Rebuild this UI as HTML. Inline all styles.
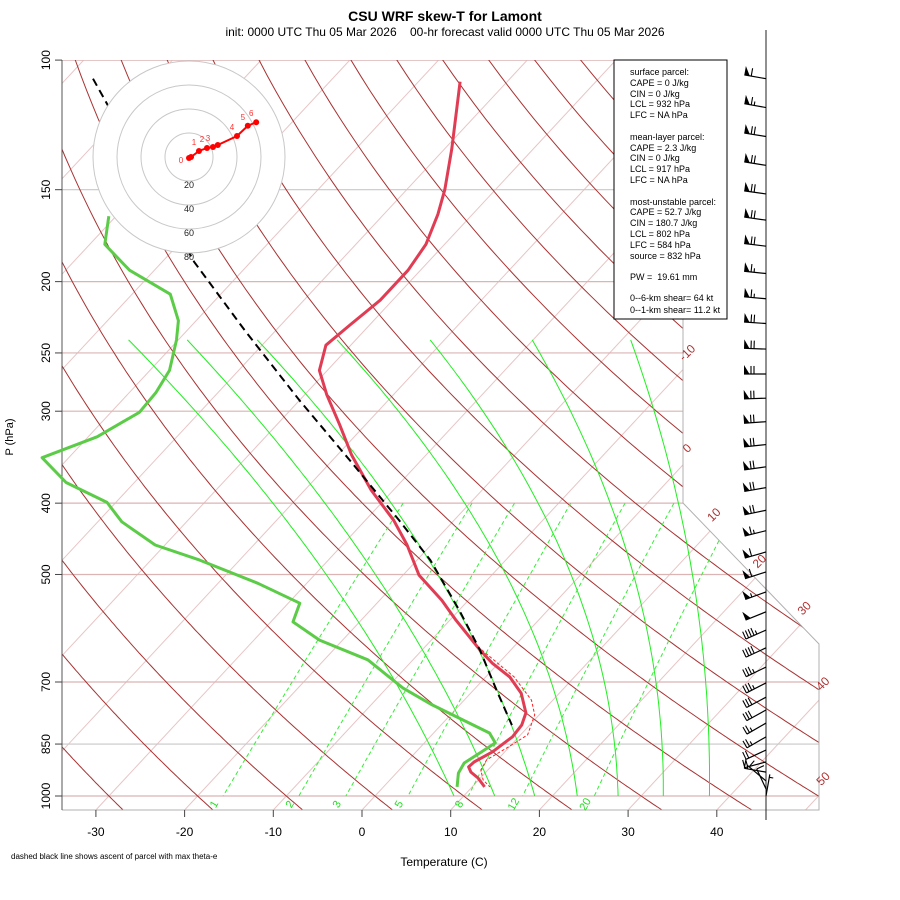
<!DOCTYPE html>
<html><head><meta charset="utf-8"><style>
html,body{margin:0;padding:0;background:#fff}
svg{display:block;font-family:"Liberation Sans",sans-serif}
</style></head><body>
<svg id="chart" width="900" height="900" viewBox="0 0 900 900" xmlns="http://www.w3.org/2000/svg">
<rect x="0" y="0" width="900" height="900" fill="#fff"/>
<defs><clipPath id="plotclip"><polygon points="62,60 683,60 683,503 819,644 819,810 62,810"/></clipPath></defs>
<text x="445" y="21" font-size="14" font-weight="bold" text-anchor="middle">CSU WRF skew-T for Lamont</text>
<text x="445" y="36" font-size="12" text-anchor="middle" xml:space="preserve">init: 0000 UTC Thu 05 Mar 2026    00-hr forecast valid 0000 UTC Thu 05 Mar 2026</text>
<g id="grid" clip-path="url(#plotclip)"></g>
<g id="frame"></g>
<g id="series"></g>
<g id="axes"></g>
<g id="hodo"></g>
<g id="barbs"></g>
<g>
<rect x="614" y="60" width="113" height="259" fill="#fff" stroke="#000" stroke-width="1"/>
<g font-size="9" fill="#000">
<text x="630" y="75">surface parcel:</text>
<text x="630" y="86">CAPE = 0 J/kg</text>
<text x="630" y="97">CIN = 0 J/kg</text>
<text x="630" y="107">LCL = 932 hPa</text>
<text x="630" y="118">LFC = NA hPa</text>
<text x="630" y="140">mean-layer parcel:</text>
<text x="630" y="151">CAPE = 2.3 J/kg</text>
<text x="630" y="161">CIN = 0 J/kg</text>
<text x="630" y="172">LCL = 917 hPa</text>
<text x="630" y="183">LFC = NA hPa</text>
<text x="630" y="205">most-unstable parcel:</text>
<text x="630" y="215">CAPE = 52.7 J/kg</text>
<text x="630" y="226">CIN = 180.7 J/kg</text>
<text x="630" y="237">LCL = 802 hPa</text>
<text x="630" y="248">LFC = 584 hPa</text>
<text x="630" y="259">source = 832 hPa</text>
<text x="630" y="280" xml:space="preserve">PW =  19.61 mm</text>
<text x="630" y="301">0--6-km shear= 64 kt</text>
<text x="630" y="313">0--1-km shear= 11.2 kt</text>
</g></g>
<text x="444" y="866" font-size="12" text-anchor="middle">Temperature (C)</text>
<text x="0" y="0" font-size="11" text-anchor="middle" transform="translate(13,437) rotate(-90)">P (hPa)</text>
<text x="11" y="859" font-size="8">dashed black line shows ascent of parcel with max theta-e</text>
</svg>
<script>
// ---- data ----
const tempP = [107,132,150,162,178,193,212,229,244,264,285,313,344,384,422,456,501,542,577,633,660,689,725,771,801,831,871,899,913,928,945,972];
const tempT = [-65.3,-59.2,-55.7,-53.9,-52.1,-51.4,-51.4,-52.2,-52.8,-50.9,-47.5,-42.9,-38.4,-32.5,-26.8,-22.7,-18.2,-13.0,-9.3,-3.5,-0.7,2.7,5.7,8.3,9.1,9.3,8.6,7.6,7.5,8.3,9.7,11.4];
const dewP = [163,178,193,208,226,240,264,283,301,325,347,375,399,424,456,478,514,547,580,614,653,713,752,796,821,847,874,902,931,972];
const dewT = [-90.8,-88.3,-82.8,-75.7,-72.0,-70.2,-67.8,-67.0,-66.8,-69.0,-73.0,-67.7,-61.0,-57.3,-51.1,-44.5,-35.5,-28.7,-27.5,-22.6,-15.1,-8.2,-3.1,3.0,6.3,8.0,7.3,6.6,7.0,8.3];
const parcelP = [106,114,188,233,290,350,422,478,559,633,718,801];
const parcelT = [-107.0,-103.1,-76.4,-63.5,-50.0,-38.0,-26.2,-18.5,-10.0,-3.5,2.6,8.0];
const virtP = [633,689,741,776,826,861,893,922,951,972];
const virtT = [-3.3,3.2,7.6,9.5,10.8,9.8,8.8,9.2,10.5,12.0];
const barbP = [106,116,127,139,152,165,179,195,211,228,247,267,288,310,333,357,381,409,436,466,496,528,562,595,629,668,702,734,764,796,831,866,899,928,954,978,1000];
const barbSpd = [60,65,70,70,70,70,70,65,65,70,70,70,70,70,70,70,70,70,65,60,60,55,50,45,40,35,35,30,30,25,25,20,20,15,10,10,5];
const barbDir = [280,280,279,279,278,278,277,276,275,274,272,270,268,266,264,262,260,258,256,254,252,250,248,246,245,244,243,242,241,240,240,245,255,280,310,335,10];
const hodoU = [0,1.7,8.3,15,20,24,40,49,56];
const hodoV = [-0.8,0,5,7.5,8.3,10,17.5,26,29];
const hodoLbl = ["0","","1","2","3","","4","5","6"];
const xTicks = [-30,-20,-10,0,10,20,30,40];
const pTicks = [100,150,200,250,300,400,500,700,850,1000];
const mixW = [1,2,3,5,8,12,20];
const isoLbl = [-10,0,10,20,30,40,50];
const moistTop = [-75.6,-69.0,-61.1,-52.1,-41.6,-30.1,-19.0];
const moistMid = [-30.9,-25.3,-18.2,-10.4,-2.9,4.3,11.1];
const moistBot = [8.9,13.5,18.0,22.8,27.4,32.5,37.7];

// ---- axes functions ----
const NS='http://www.w3.org/2000/svg';
function yP(p){return 796-319.6*Math.log(1000/p);}
function xT(T,y){return 362+8.87*T+0.93*(810-y);}
function mk(tag,attrs,parent){const e=document.createElementNS(NS,tag);for(const k in attrs)e.setAttribute(k,attrs[k]);parent.appendChild(e);return e;}
function pathD(pts){return pts.map((q,i)=>(i?'L':'M')+q[0].toFixed(1)+','+q[1].toFixed(1)).join('');}
const grid=document.getElementById('grid'),frame=document.getElementById('frame'),series=document.getElementById('series'),axes=document.getElementById('axes'),hodo=document.getElementById('hodo'),barbs=document.getElementById('barbs');

// isotherms
for(let T=-120;T<=50;T+=10){
  const e=mk('line',{x1:xT(T,810),y1:810,x2:xT(T,40),y2:40,stroke:'#e8c4c4','stroke-width':1},grid);
  
  
}
// isobars
pTicks.forEach(p=>{const y=yP(p);
  const e=mk('line',{x1:62,y1:y,x2:830,y2:y,stroke:(p==150||p==850)?'#c8c8c8':'#dcb4b4','stroke-width':1.2},grid);
  
  
});
// dry adiabats
for(let th=243.15;th<=480;th+=10){
  const pts=[];for(let p=1060;p>=95;p-=5){const y=yP(p);pts.push([xT(th*Math.pow(p/1000,0.2857)-273.15,y),y]);}
  const e=mk('path',{d:pathD(pts),fill:'none',stroke:'#a83232','stroke-width':1},grid);
  
  
}
// moist adiabats
const lt=Math.log(240),lm=Math.log(482),lb=Math.log(1000);
moistTop.forEach((t0,i)=>{const pts=[];
  for(let p=240;p<=1000;p+=10){const l=Math.log(p);
    const T=t0*(l-lm)*(l-lb)/((lt-lm)*(lt-lb))+moistMid[i]*(l-lt)*(l-lb)/((lm-lt)*(lm-lb))+moistBot[i]*(l-lt)*(l-lm)/((lb-lt)*(lb-lm));
    const y=yP(p);pts.push([xT(T,y),y]);}
  const e=mk('path',{d:pathD(pts),fill:'none',stroke:'#22ee22','stroke-width':1},grid);
  
  
});
// mixing ratio lines
function tdFromW(w,p){const e=w*p/(622+w);const l=Math.log(e/6.112);return 243.5*l/(17.67-l);}
mixW.forEach(w=>{const pts=[];for(let p=400;p<=1000;p+=20){const y=yP(p);pts.push([xT(tdFromW(w,p),y),y]);}
  const e=mk('path',{d:pathD(pts),fill:'none',stroke:'#33ee33','stroke-width':1,'stroke-dasharray':'4,3'},grid);
  
  
  const x=xT(tdFromW(w,1000),796)-6;
  const t=mk('text',{x:0,y:0,'font-size':11,fill:'#22dd22','text-anchor':'middle',transform:`translate(${x.toFixed(1)},806) rotate(-60)`},axes);
  t.textContent=w;
  
  
});
// frame
mk('polyline',{points:'683,60 683,503 819,644 819,810 62,810',fill:'none',stroke:'#b0b0b0','stroke-width':1},frame);
mk('line',{x1:62,y1:60,x2:62,y2:810,stroke:'#555','stroke-width':1},frame);
mk('line',{x1:766,y1:30,x2:766,y2:820,stroke:'#222','stroke-width':1},frame);
// isotherm labels
function rightB(y){return y<503?683:(y<644?683+(y-503)*136/141:819);}
isoLbl.forEach(T=>{let yy=810;for(let y=60;y<=810;y+=0.5){if(xT(T,y)<=rightB(y)){yy=y;break;}}
  const x=xT(T,yy)+7,y=yy-14;
  const t=mk('text',{x:0,y:0,'font-size':12,fill:'#b03030','text-anchor':'middle',transform:`translate(${x.toFixed(1)},${y.toFixed(1)}) rotate(-45)`},axes);
  t.textContent=T;
  
  
});
// x axis
xTicks.forEach(T=>{const x=xT(T,810);
  mk('line',{x1:x,y1:810,x2:x,y2:817,stroke:'#444'},axes);
  const t=mk('text',{x:x,y:836,'font-size':12,'text-anchor':'middle'},axes);t.textContent=T;
  
  
});
// y axis
pTicks.forEach(p=>{const y=yP(p);
  mk('line',{x1:55,y1:y,x2:62,y2:y,stroke:'#444'},axes);
  const t=mk('text',{x:0,y:0,'font-size':12,'text-anchor':'middle',transform:`translate(50,${y.toFixed(1)}) rotate(-90)`},axes);t.textContent=p;
  
  
});
// series
function prof(P,T){return P.map((p,i)=>{const y=yP(p);return [xT(T[i],y),y];});}
let e;
e=mk('path',{d:pathD(prof(virtP,virtT)),fill:'none',stroke:'#ff2020','stroke-width':1,'stroke-dasharray':'3,2'},series);


e=mk('path',{d:pathD(prof(dewP,dewT)),fill:'none',stroke:'#5ccc48','stroke-width':3,'stroke-linejoin':'round'},series);


e=mk('path',{d:pathD(prof(tempP,tempT)),fill:'none',stroke:'#e03c54','stroke-width':3,'stroke-linejoin':'round'},series);


e=mk('path',{d:pathD(prof(parcelP,parcelT)),fill:'none',stroke:'#000','stroke-width':2,'stroke-dasharray':'8,5'},series);


// hodograph
const hx=189,hy=157,hs=1.2;
mk('circle',{cx:hx,cy:hy,r:96,fill:'#fff',stroke:'#c8c8c8'},hodo);
[20,40,60].forEach(r=>mk('circle',{cx:hx,cy:hy,r:r*hs,fill:'none',stroke:'#c8c8c8'},hodo));
[20,40,60,80].forEach(r=>{const t=mk('text',{x:hx,y:hy+r*hs+7,'font-size':9,'text-anchor':'middle',fill:'#222'},hodo);t.textContent=r;
  
  });
const hp=hodoU.map((u,i)=>[hx+u*hs,hy-hodoV[i]*hs]);
e=mk('path',{d:pathD(hp),fill:'none',stroke:'#ff0000','stroke-width':2},hodo);


hp.forEach((q,i)=>{const c=mk('circle',{cx:q[0],cy:q[1],r:3,fill:'#ff0000'},hodo);
  
  
  if(hodoLbl[i]){const t=mk('text',{x:q[0]-(i==0?8:5),y:q[1]+(i==0?5:-6),'font-size':8,fill:'#ff3030','text-anchor':'middle'},hodo);t.textContent=hodoLbl[i];
    
    }
});
// wind barbs
barbP.forEach((p,i)=>{const by=yP(p),bx=766,L=22;
  const a=barbDir[i]*Math.PI/180;const sx=Math.sin(a),sy=-Math.cos(a);
  const nx=-sy,ny=sx;
  const tx=bx+sx*L,ty=by+sy*L;
  const g=mk('g',{},barbs);
  
  
  mk('line',{x1:bx,y1:by,x2:tx,y2:ty,stroke:'#000','stroke-width':1.2},g);
  let rem=Math.round(barbSpd[i]/5)*5,d=0;
  const pt=dd=>[tx-sx*dd,ty-sy*dd];
  while(rem>=50){const a0=pt(d),a1=pt(d+5.5);mk('polygon',{points:`${a0[0]},${a0[1]} ${a0[0]+nx*9},${a0[1]+ny*9} ${a1[0]},${a1[1]}`,fill:'#000'},g);d+=7;rem-=50;}
  if(d==0&&rem<10&&rem>0)d=3;
  while(rem>=10){const a0=pt(d);mk('line',{x1:a0[0],y1:a0[1],x2:a0[0]+nx*8,y2:a0[1]+ny*8,stroke:'#000','stroke-width':1.1},g);d+=3;rem-=10;}
  if(rem>=5){const a0=pt(d);mk('line',{x1:a0[0],y1:a0[1],x2:a0[0]+nx*4,y2:a0[1]+ny*4,stroke:'#000','stroke-width':1.1},g);}
});
</script>
</body></html>
